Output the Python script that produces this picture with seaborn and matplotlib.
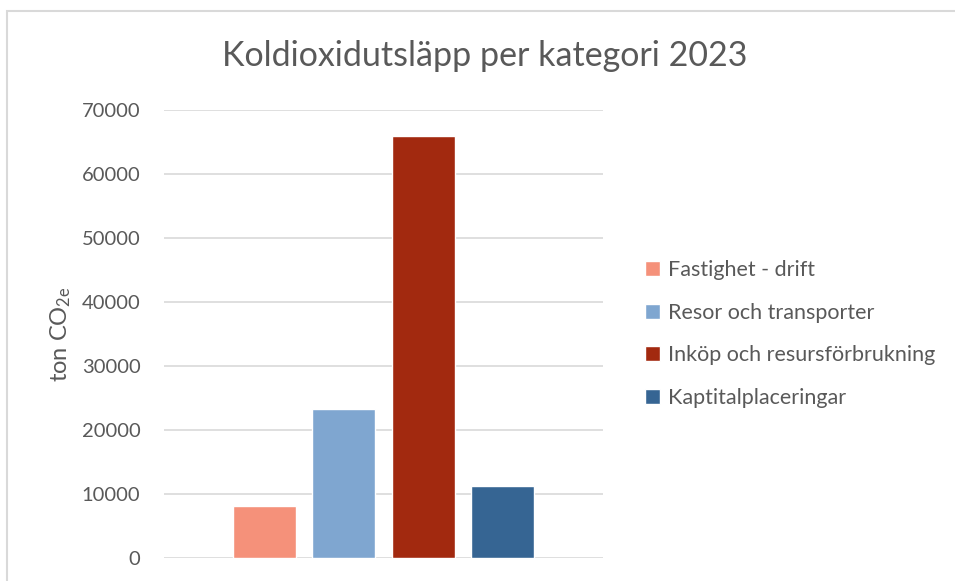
import pandas as pd
import numpy as np
import seaborn as sns
import matplotlib.pyplot as plt
from matplotlib.patches import Rectangle

# Chart data
categories = ['Fastighet - drift', 'Resor och transporter',
              'Inköp och resursförbrukning', 'Kaptitalplaceringar']
values = [8100, 23300, 66000, 11250]
bar_colors = ['#F5917A', '#7FA6D0', '#A2290F', '#366593']
y_ticks = [0, 10000, 20000, 30000, 40000, 50000, 60000, 70000]
title = 'Koldioxidutsläpp per kategori 2023'

sns.set_theme(style='white')
plt.rcParams.update({
    'font.family': ['Lato', 'DejaVu Sans'],
    'mathtext.fontset': 'custom',
    'mathtext.rm': 'Lato',
    'mathtext.it': 'Lato:italic',
    'text.color': '#595959',
})

df = pd.DataFrame({'kategori': categories, 'ton': values})

fig = plt.figure(figsize=(9.55, 5.81), dpi=100)
W, H = 955, 581
ax = fig.add_axes([164 / W, (H - 558) / H, 439 / W, 448 / H])

sns.barplot(data=df, x='kategori', y='ton', hue='kategori',
            palette=dict(zip(categories, bar_colors)), width=0.79,
            saturation=1, ax=ax, legend=True, zorder=3)

ax.set_ylim(0, 70000)
ax.set_xlim(-1.26, 4.26)
ax.set_yticks(y_ticks)
ax.set_yticklabels([str(t) for t in y_ticks])
ax.tick_params(axis='y', labelsize=14.5, colors='#595959', length=0, pad=17)
ax.set_xticks([])
ax.set_xlabel('')
ax.set_ylabel(r'ton CO$_{\mathrm{2e}}$', fontsize=17, color='#595959', labelpad=6)
ax.yaxis.grid(True, color='#D9D9D9', linewidth=1.2, zorder=0)
ax.set_axisbelow(True)
for s in ax.spines.values():
    s.set_visible(False)

fig.text(485 / W, 1 - 56 / H, title, ha='center', va='center',
         fontsize=24.5, color='#595959')

handles, labels = ax.get_legend_handles_labels()
ax.legend(handles, labels, loc='center left',
          bbox_to_anchor=(626 / W, 1 - 334 / H), bbox_transform=fig.transFigure,
          frameon=False, fontsize=15.5, labelcolor='#595959',
          handlelength=0.7, handleheight=0.7, handletextpad=0.35,
          labelspacing=1.05)

# chart border (cropped on right and bottom)
fig.patches.append(Rectangle((7 / W, -0.1), 1.2, 1 - 11 / H + 0.1,
                             transform=fig.transFigure, fill=False,
                             edgecolor='#D9D9D9', linewidth=1.5))

plt.savefig('out.png', dpi=100)
